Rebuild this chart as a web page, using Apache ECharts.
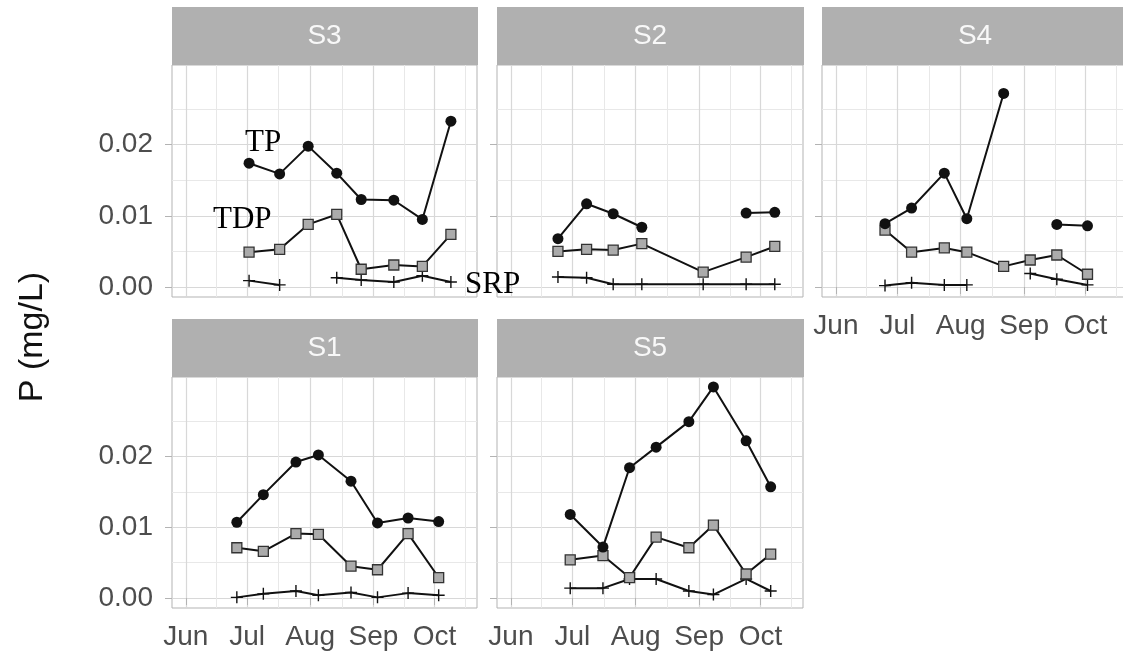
<!DOCTYPE html>
<html><head><meta charset="utf-8">
<script src="https://cdn.jsdelivr.net/npm/echarts@6/dist/echarts.min.js"></script>
<style>html,body{margin:0;padding:0;background:#fff}#c{width:1123px;height:657px}</style>
</head><body><div id="c"></div>
<script>
// ---------------- DATA ----------------
const sites = ['S3', 'S2', 'S4', 'S1', 'S5'];
const seriesNames = ['TP', 'TDP', 'SRP'];
const monthLabels = ['Jun', 'Jul', 'Aug', 'Sep', 'Oct'];
const monthTickDates = ['2019-06-01', '2019-07-01', '2019-08-01', '2019-09-01', '2019-10-01'];
const xLimitDates = ['2019-06-01', '2019-10-15'];
const yTickValues = [0, 0.01, 0.02];
const yMinorValues = [0.005, 0.015, 0.025];

const datesS3 = ['2019-07-02', '2019-07-17', '2019-07-31', '2019-08-14', '2019-08-26', '2019-09-11', '2019-09-25', '2019-10-09'];
const tpS3  = [0.0174, 0.0159, 0.0198, 0.0160, 0.0123, 0.0122, 0.0095, 0.0233];
const tdpS3 = [0.0049, 0.0053, 0.0088, 0.0102, 0.0025, 0.0031, 0.0029, 0.0074];
const srpS3 = [0.0009, 0.0003, null, 0.0013, 0.0010, 0.0007, 0.0016, 0.0007];

const datesS2 = ['2019-06-24', '2019-07-08', '2019-07-21', '2019-08-04', '2019-09-03', '2019-09-24', '2019-10-08'];
const tpS2  = [0.0068, 0.0117, 0.0103, 0.0084, null, 0.0104, 0.0105];
const tdpS2 = [0.0050, 0.0053, 0.0052, 0.0061, 0.0021, 0.0042, 0.0057];
const srpS2 = [0.0014, 0.0013, 0.0004, 0.0004, 0.0004, 0.0004, 0.0004];

const datesS4 = ['2019-06-25', '2019-07-08', '2019-07-24', '2019-08-04', '2019-08-22', '2019-09-04', '2019-09-17', '2019-10-02'];
const tpS4  = [0.0089, 0.0111, 0.0160, 0.0096, 0.0272, null, 0.0088, 0.0086];
const tdpS4 = [0.0080, 0.0049, 0.0055, 0.0049, 0.0029, 0.0038, 0.0045, 0.0018];
const srpS4 = [0.0002, 0.0006, 0.0003, 0.0003, null, 0.0019, 0.0011, 0.0003];

const datesS1 = ['2019-06-26', '2019-07-09', '2019-07-25', '2019-08-05', '2019-08-21', '2019-09-03', '2019-09-18', '2019-10-03'];
const tpS1  = [0.0107, 0.0146, 0.0192, 0.0202, 0.0165, 0.0106, 0.0113, 0.0108];
const tdpS1 = [0.0071, 0.0066, 0.0091, 0.0090, 0.0045, 0.0040, 0.0091, 0.0029];
const srpS1 = [0.0001, 0.0006, 0.0010, 0.0004, 0.0008, 0.0001, 0.0007, 0.0004];

const datesS5 = ['2019-06-30', '2019-07-16', '2019-07-29', '2019-08-11', '2019-08-27', '2019-09-08', '2019-09-24', '2019-10-06'];
const tpS5  = [0.0118, 0.0072, 0.0184, 0.0213, 0.0249, 0.0298, 0.0222, 0.0157];
const tdpS5 = [0.0054, 0.0060, 0.0029, 0.0086, 0.0071, 0.0103, 0.0034, 0.0062];
const srpS5 = [0.0014, 0.0014, 0.0027, 0.0027, 0.0010, 0.0005, 0.0027, 0.0010];

const panelData = {
  S3: [datesS3, tpS3, tdpS3, srpS3],
  S2: [datesS2, tpS2, tdpS2, srpS2],
  S4: [datesS4, tpS4, tdpS4, srpS4],
  S1: [datesS1, tpS1, tdpS1, srpS1],
  S5: [datesS5, tpS5, tdpS5, srpS5]
};

// ---------------- LAYOUT / STYLE ----------------
const layout = {
  S3: {left: 172, top: 65, width: 305, height: 232, yLab: true,  xLab: false},
  S2: {left: 497, top: 65, width: 306, height: 232, yLab: false, xLab: false},
  S4: {left: 822, top: 65, width: 306, height: 232, yLab: false, xLab: true},
  S1: {left: 172, top: 377, width: 305, height: 231, yLab: true,  xLab: true},
  S5: {left: 497, top: 377, width: 306, height: 231, yLab: false, xLab: true}
};
const STRIP_H = 58;
const FONT = '"Liberation Sans", Arial, sans-serif';
const SERIF = '"Liberation Serif", "Times New Roman", serif';
const TEXT_GREY = '#4d4d4d';
const FRAME = '#b3b3b3';
const GRID_MAJOR = '#d8d8d8';
const GRID_MINOR = '#e8e8e8';
const INK = '#111111';

function doy(s) {
  const p = s.split('-').map(Number);
  return (Date.UTC(p[0], p[1] - 1, p[2]) - Date.UTC(p[0], 0, 1)) / 864e5;
}
const monthTicks = monthTickDates.map(doy);
const lim0 = doy(xLimitDates[0]), lim1 = doy(xLimitDates[1]);
const xExp = (lim1 - lim0) * 0.05;
const X_MIN = lim0 - xExp, X_MAX = lim1 + xExp;
// minor breaks: midpoints of extended majors
const extMaj = [2 * monthTicks[0] - monthTicks[1]].concat(monthTicks, [2 * monthTicks[monthTicks.length - 1] - monthTicks[monthTicks.length - 2]]);
const xMinor = [];
for (let i = 0; i < extMaj.length - 1; i++) {
  const m = (extMaj[i] + extMaj[i + 1]) / 2;
  if (m > X_MIN && m < X_MAX) xMinor.push(m);
}
const Y_MIN = -0.0014, Y_MAX = 0.0312;

const grids = [], xAxes = [], yAxes = [], series = [], graphics = [];

sites.forEach((site, gi) => {
  const L = layout[site];
  grids.push({left: L.left, top: L.top, width: L.width, height: L.height,
    show: true, borderColor: FRAME, borderWidth: 1, backgroundColor: 'transparent',
    containLabel: false, outerBoundsMode: 'none'});
  // x: minor grid
  xAxes.push({type: 'value', gridIndex: gi, min: X_MIN, max: X_MAX, position: 'bottom',
    axisLine: {show: false}, axisLabel: {show: false},
    axisTick: {show: false, customValues: xMinor},
    splitLine: {show: true, lineStyle: {color: GRID_MINOR, width: 1}}});
  // x: major grid + ticks + labels
  xAxes.push({type: 'value', gridIndex: gi, min: X_MIN, max: X_MAX, position: 'bottom',
    axisLine: {show: false},
    axisTick: {show: L.xLab, customValues: monthTicks, length: 7, lineStyle: {color: FRAME, width: 1}},
    axisLabel: {show: L.xLab, customValues: monthTicks, margin: 15, color: TEXT_GREY,
      fontSize: 28, fontFamily: FONT,
      formatter: v => monthLabels[monthTicks.indexOf(v)] || ''},
    splitLine: {show: true, lineStyle: {color: GRID_MAJOR, width: 1.2}}});
  // y: minor grid
  yAxes.push({type: 'value', gridIndex: gi, min: Y_MIN, max: Y_MAX, position: 'left',
    axisLine: {show: false}, axisLabel: {show: false},
    axisTick: {show: false, customValues: yMinorValues},
    splitLine: {show: true, lineStyle: {color: GRID_MINOR, width: 1}}});
  // y: major
  yAxes.push({type: 'value', gridIndex: gi, min: Y_MIN, max: Y_MAX, position: 'left',
    axisLine: {show: false},
    axisTick: {show: true, customValues: yTickValues, length: 7, lineStyle: {color: FRAME, width: 1}},
    axisLabel: {show: L.yLab, customValues: yTickValues, margin: 19, color: TEXT_GREY,
      fontSize: 28, fontFamily: FONT, formatter: v => v.toFixed(2)},
    splitLine: {show: true, lineStyle: {color: GRID_MAJOR, width: 1.2}}});

  const [dates, tp, tdp, srp] = panelData[site];
  const x = dates.map(doy);
  const pts = vals => x.map((xv, i) => [xv, vals[i] == null ? '-' : vals[i]]);
  const base = {type: 'line', xAxisIndex: gi * 2 + 1, yAxisIndex: gi * 2 + 1,
    silent: true, animation: false, connectNulls: false};
  series.push(Object.assign({}, base, {name: 'SRP', data: pts(srp),
    symbol: 'path://M5,0L5,10M0,5L10,5', symbolSize: 12,
    lineStyle: {color: INK, width: 2},
    itemStyle: {color: INK, borderColor: INK, borderWidth: 1.4}}));
  series.push(Object.assign({}, base, {name: 'TDP', data: pts(tdp),
    symbol: 'rect', symbolSize: 10,
    lineStyle: {color: INK, width: 2},
    itemStyle: {color: '#ababab', borderColor: '#333', borderWidth: 1.3}}));
  series.push(Object.assign({}, base, {name: 'TP', data: pts(tp),
    symbol: 'circle', symbolSize: 11,
    lineStyle: {color: INK, width: 2},
    itemStyle: {color: INK}}));

  // strip
  graphics.push({type: 'rect', silent: true,
    shape: {x: L.left, y: L.top - STRIP_H, width: L.width + 1, height: STRIP_H},
    style: {fill: '#b0b0b0'}});
  graphics.push({type: 'text', silent: true, x: L.left + L.width / 2, y: L.top - STRIP_H / 2,
    style: {text: site, fill: '#f8f8f8', font: '28px ' + FONT, align: 'center', verticalAlign: 'middle'}});
});

// annotations
graphics.push({type: 'text', silent: true, x: 245, y: 143, z: 100,
  style: {text: 'TP', fill: '#000', font: '31px ' + SERIF, align: 'left', verticalAlign: 'middle'}});
graphics.push({type: 'text', silent: true, x: 213, y: 220, z: 100,
  style: {text: 'TDP', fill: '#000', font: '31px ' + SERIF, align: 'left', verticalAlign: 'middle'}});
graphics.push({type: 'text', silent: true, x: 465, y: 285, z: 100,
  style: {text: 'SRP', fill: '#000', font: '31px ' + SERIF, align: 'left', verticalAlign: 'middle'}});
// y-axis title
graphics.push({type: 'text', silent: true, x: 33, y: 337, rotation: Math.PI / 2,
  style: {text: 'P (mg/L)', fill: '#111', font: '34px ' + FONT, align: 'center', verticalAlign: 'middle'}});

const chart = echarts.init(document.getElementById('c'), null, {renderer: 'canvas'});
chart.setOption({
  animation: false,
  backgroundColor: '#ffffff',
  grid: grids, xAxis: xAxes, yAxis: yAxes, series: series,
  graphic: {elements: graphics}
});
</script></body></html>
